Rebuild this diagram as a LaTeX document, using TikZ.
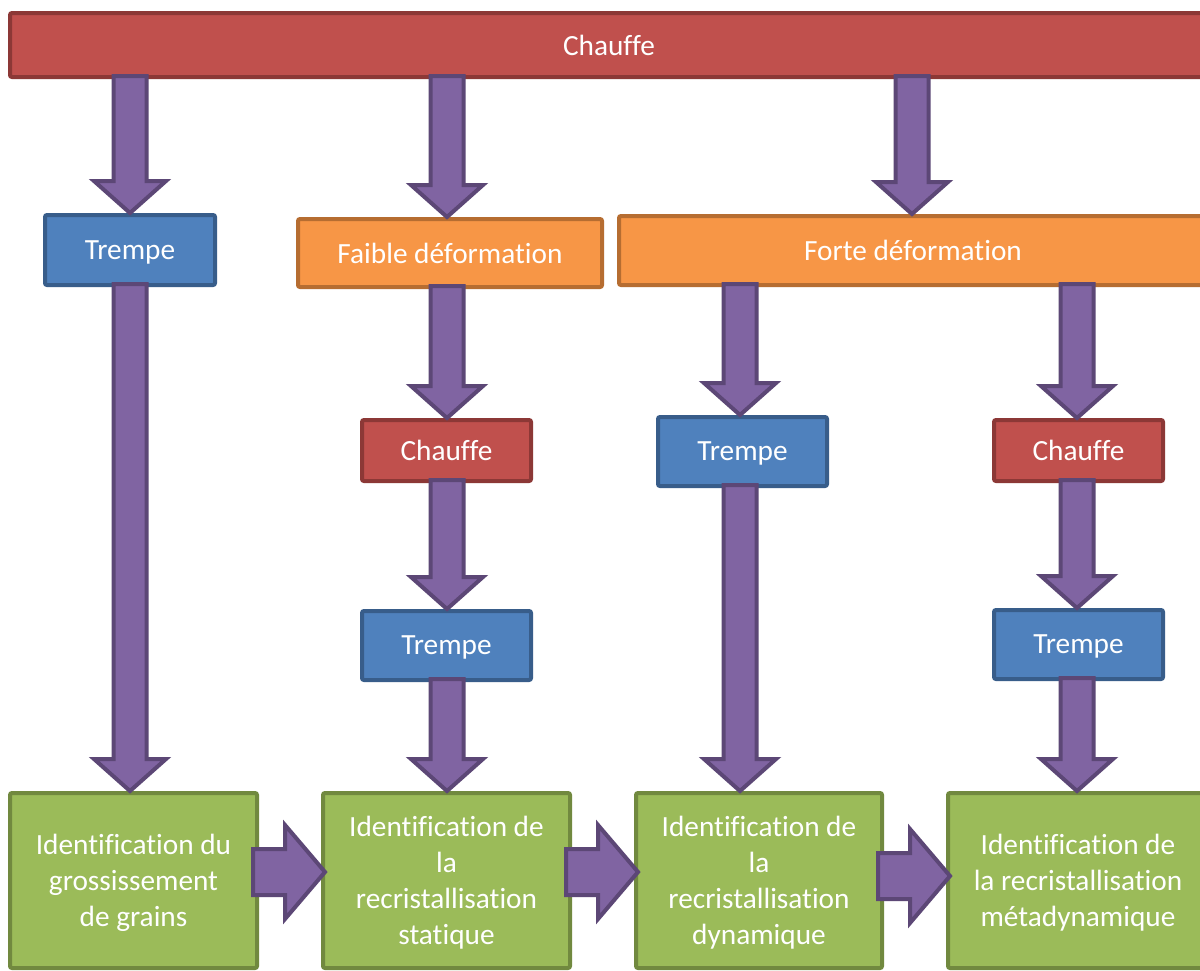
\documentclass[tikz,border=0pt]{standalone}
\usepackage{fontspec}
\setmainfont[Ligatures={NoCommon}]{Carlito}
\usetikzlibrary{calc}
\definecolor{rfill}{HTML}{C0504D}\definecolor{rdraw}{HTML}{8C3836}
\definecolor{bfill}{HTML}{4F81BD}\definecolor{bdraw}{HTML}{385D8A}
\definecolor{ofill}{HTML}{F79646}\definecolor{odraw}{HTML}{B66D31}
\definecolor{gfill}{HTML}{9BBB59}\definecolor{gdraw}{HTML}{71893F}
\definecolor{pfill}{HTML}{8064A2}\definecolor{pdraw}{HTML}{5C4776}
\tikzset{
  box/.style={rectangle, rounded corners=2pt, line width=4pt, text=white, inner sep=0pt,
    font=\fontsize{29.3}{36}\selectfont, align=center, text depth=0pt},
  redbox/.style={box, fill=rfill, draw=rdraw},
  bluebox/.style={box, fill=bfill, draw=bdraw},
  orangebox/.style={box, fill=ofill, draw=odraw},
  greenbox/.style={box, fill=gfill, draw=gdraw},
  blk/.style={fill=pfill, draw=pdraw, line width=4pt, line join=miter},
}
% vertical block arrow: from, to, node giving x
\newcommand\vblk[3]{%
  \draw[blk] let \p1=(#1.south), \p2=(#2.north), \p3=(#3.center) in
    (\x3-16.5pt,\y1+3pt) -- (\x3-16.5pt,\y2+32pt) -- (\x3-36pt,\y2+32pt) -- (\x3,\y2)
    -- (\x3+36pt,\y2+32pt) -- (\x3+16.5pt,\y2+32pt) -- (\x3+16.5pt,\y1+3pt) -- cycle;}
% horizontal block arrow: from, to, coordinate giving y
\newcommand\hblk[3]{%
  \draw[blk] let \p1=(#1.east), \p2=(#2.west), \p3=(#3) in
    (\x1-6pt,\y3+23pt) -- (\x2-36pt,\y3+23pt) -- (\x2-36pt,\y3+47pt) -- (\x2+4pt,\y3)
    -- (\x2-36pt,\y3-47pt) -- (\x2-36pt,\y3-23pt) -- (\x1-6pt,\y3-23pt) -- cycle;}
\begin{document}
\begin{tikzpicture}[x=1pt,y=-1pt]
\useasboundingbox (0,0) rectangle (1200,970);
\clip (0,0) rectangle (1200,970);
\fill[white] (0,0) rectangle (1200,970);
% nodes
\node[redbox, minimum width=1198pt, minimum height=64pt] (top) at (609,45) {Chauffe};
\node[bluebox, minimum width=170pt, minimum height=70pt] (t1) at (130,250) {Trempe};
\node[orangebox, minimum width=304pt, minimum height=68pt] (faible) at (450,253) {Faible déformation};
\node[orangebox, minimum width=588pt, minimum height=69pt] (forte) at (913,250.5) {Forte déformation};
\node[redbox, minimum width=169pt, minimum height=61pt] (c2) at (446.5,450.5) {Chauffe};
\node[bluebox, minimum width=169pt, minimum height=69pt] (t2) at (446.5,645.5) {Trempe};
\node[bluebox, minimum width=169pt, minimum height=69pt] (t3) at (742.5,451.5) {Trempe};
\node[redbox, minimum width=169pt, minimum height=61pt] (c3) at (1078.5,450.5) {Chauffe};
\node[bluebox, minimum width=169pt, minimum height=69pt] (t4) at (1078.5,644.5) {Trempe};
\node[greenbox, minimum width=247pt, minimum height=175pt] (g1) at (133.5,880.5) {Identification du\\grossissement\\de grains};
\node[greenbox, minimum width=247pt, minimum height=175pt] (g2) at (446.5,880.5) {Identification de\\la\\recristallisation\\statique};
\node[greenbox, minimum width=246pt, minimum height=175pt] (g3) at (759,880.5) {Identification de\\la\\recristallisation\\dynamique};
\node[greenbox, minimum width=260pt, minimum height=175pt] (g4) at (1078,880.5) {Identification de\\la recristallisation\\métadynamique};
% x reference coordinates
\coordinate (xa) at (447,0);
\coordinate (xb) at (912,0);
\coordinate (xc) at (740,0);
\coordinate (xd) at (1077,0);
\coordinate (ya) at (0,872);
\coordinate (yb) at (0,876);
% vertical arrows
\vblk{top}{t1}{t1}
\vblk{top}{faible}{xa}
\vblk{top}{forte}{xb}
\vblk{t1}{g1}{t1}
\vblk{faible}{c2}{xa}
\vblk{c2}{t2}{xa}
\vblk{t2}{g2}{xa}
\vblk{forte}{t3}{xc}
\vblk{t3}{g3}{xc}
\vblk{forte}{c3}{xd}
\vblk{c3}{t4}{xd}
\vblk{t4}{g4}{xd}
% horizontal arrows
\hblk{g1}{g2}{ya}
\hblk{g2}{g3}{ya}
\hblk{g3}{g4}{yb}
\end{tikzpicture}
\end{document}
